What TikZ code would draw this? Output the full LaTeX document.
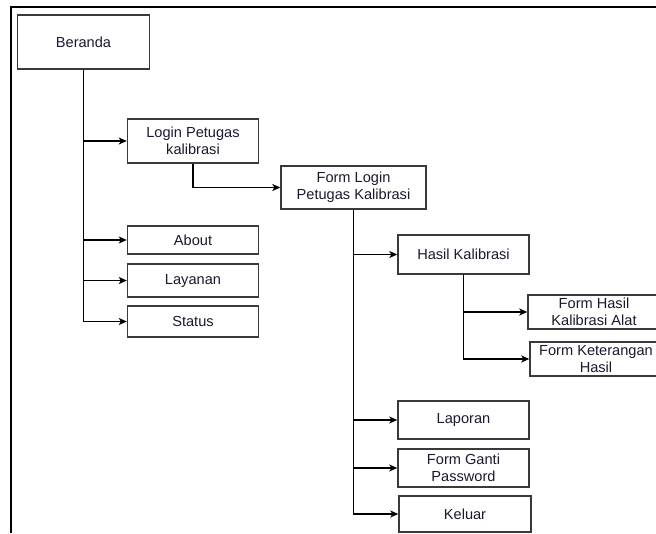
\documentclass[tikz,border=0pt]{standalone}
\usepackage{fontspec}
\setmainfont{Liberation Sans}
\usetikzlibrary{arrows.meta}
\definecolor{boxline}{HTML}{3A3A3A}
\definecolor{ink}{HTML}{1A1A2E}
\tikzset{
  menubox/.style={draw=boxline, line width=1.4pt, fill=white, inner sep=1pt,
    align=center, text=ink, font=\fontsize{14.6}{16.6}\selectfont},
  link/.style={line width=1.3pt, -{Stealth[length=8pt,width=7pt,inset=2pt]}},
  frame/.style={line width=2pt, black}
}
\begin{document}
\begin{tikzpicture}[x=1pt,y=-1pt]
\useasboundingbox (0,0) rectangle (656,533);
% outer frame: top and left edges only
\draw[frame] (11.3,533) -- (11.3,6.8) -- (660,6.8);

% first level
\node[menubox, minimum width=132pt, minimum height=54pt] (beranda) at (83.5,42) {Beranda};
\node[menubox, minimum width=131pt, minimum height=44pt] (login) at (193,141) {Login Petugas\\kalibrasi};
\node[menubox, minimum width=131pt, minimum height=28pt] (about) at (193,240) {About};
\node[menubox, minimum width=131pt, minimum height=33pt] (layanan) at (193,280.5) {Layanan};
\node[menubox, minimum width=131pt, minimum height=31pt] (status) at (193,321.5) {Status};

% officer area
\node[menubox, minimum width=145pt, minimum height=43pt] (formlogin) at (353.5,187.5) {Form Login\\Petugas Kalibrasi};
\node[menubox, minimum width=131pt, minimum height=39pt] (hasil) at (463.5,254.5) {Hasil Kalibrasi};
\node[menubox, minimum width=131pt, minimum height=38pt] (laporan) at (463.5,420) {Laporan};
\node[menubox, minimum width=131pt, minimum height=38pt] (ganti) at (463.5,468) {Form Ganti\\Password};
\node[menubox, minimum width=132pt, minimum height=36pt] (keluar) at (465,514) {Keluar};

% calibration result forms
\node[menubox, minimum width=132pt, minimum height=34pt] (formhasil) at (594,312) {Form Hasil\\Kalibrasi Alat};
\node[menubox, minimum width=132pt, minimum height=34pt] (formket) at (596,359) {Form Keterangan\\Hasil};

% connectors
\draw[link] (beranda.south) |- (login.west);
\draw[link] (beranda.south) |- (about.west);
\draw[link] (beranda.south) |- (layanan.west);
\draw[link] (beranda.south) |- (status.west);

\draw[link] (login.south) |- (formlogin.west);

\draw[link] (formlogin.south) |- (hasil.west);
\draw[link] (formlogin.south) |- (laporan.west);
\draw[link] (formlogin.south) |- (ganti.west);
\draw[link] (formlogin.south) |- (keluar.west);

\draw[link] (hasil.south) |- (formhasil.west);
\draw[link] (hasil.south) |- (formket.west);
\end{tikzpicture}
\end{document}
